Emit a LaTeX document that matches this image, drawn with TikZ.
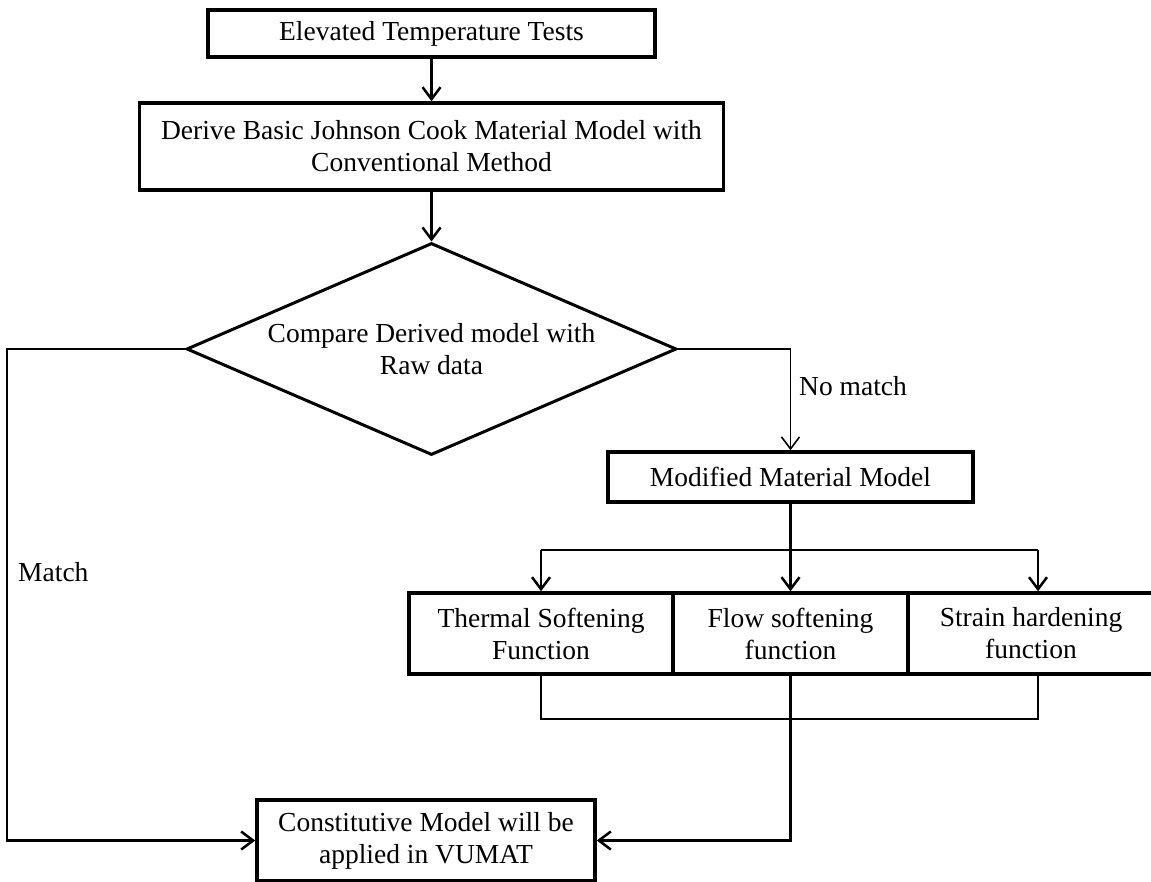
\documentclass[tikz,border=0pt]{standalone}
\usepackage{fontspec}
\setmainfont{Liberation Serif}
\usetikzlibrary{arrows.meta,positioning,shapes.geometric}
\newcommand{\letra}{\fontsize{27.5}{32}\selectfont}
\tikzset{
  caja/.style={draw, line width=3.5pt, align=center, inner sep=2pt, font=\letra},
  rombo/.style={draw, diamond, aspect=2.31, line width=3pt, align=center, inner sep=0pt, font=\letra},
  fl/.style={-{Straight Barb[length=12pt,width=18pt]}, line width=2.5pt},
  flfino/.style={-{Straight Barb[length=12pt,width=18pt]}, line width=1.6pt},
  lin/.style={line width=2.5pt},
  et/.style={font=\letra, inner sep=0pt},
}

\begin{document}
\begin{tikzpicture}[x=1pt,y=-1pt]
  \useasboundingbox (0,0) rectangle (1151,881);
  \node[caja, minimum width=447pt, minimum height=47pt] (ensayos) at (431.5,33.5) {Elevated Temperature Tests};
  \node[caja, minimum width=584pt, minimum height=87pt] (deriv) at (431.5,146.5) {Derive Basic Johnson Cook Material Model with\\ Conventional Method};
  \node[rombo, minimum width=490pt, minimum height=212pt] (comp) at (431.5,349) {Compare Derived model with\\ Raw data};
  \node[caja, minimum width=365pt, minimum height=50pt] (modif) at (790.5,477) {Modified Material Model};
  \node[caja, minimum width=264pt, minimum height=81pt] (term) at (541,633.5) {Thermal Softening\\ Function};
  \node[caja, minimum width=235pt, minimum height=81pt] (flujo) at (790.5,633.5) {Flow softening\\ function};
  \node[caja, minimum width=246pt, minimum height=81pt] (defor) at (1031,633.5) {Strain hardening\\ function};
  \node[caja, minimum width=338pt, minimum height=81pt] (vumat) at (426,840.5) {Constitutive Model will be\\ applied in VUMAT};
  \node[et, anchor=west] (match) at (18,572) {Match};
  \node[et, anchor=west] (nomatch) at (799,386) {No match};

  \draw[fl] (ensayos) -- (deriv);
  \draw[fl] (deriv) -- (comp);
  % no match branch
  \draw[flfino] (comp.east) -| (modif.north);
  \draw[lin] (modif.south) -- ++(0,46) coordinate (rama);
  \draw[lin] (term.north |- rama) -- ++(497,0) coordinate (rama3);
  \draw[fl] (term.north |- rama) -- (term.north);
  \draw[fl] (rama) -- (flujo.north);
  \draw[fl] (rama3) -- (rama3 |- defor.north);
  \draw[lin] (term.south) -- ++(0,43) -| (rama3 |- defor.south);
  \draw[fl] (flujo.south) |- (vumat.east);
  % match branch
  \draw[fl] (comp.west) -- ++(-178,0) |- (vumat.west);
\end{tikzpicture}
\end{document}
